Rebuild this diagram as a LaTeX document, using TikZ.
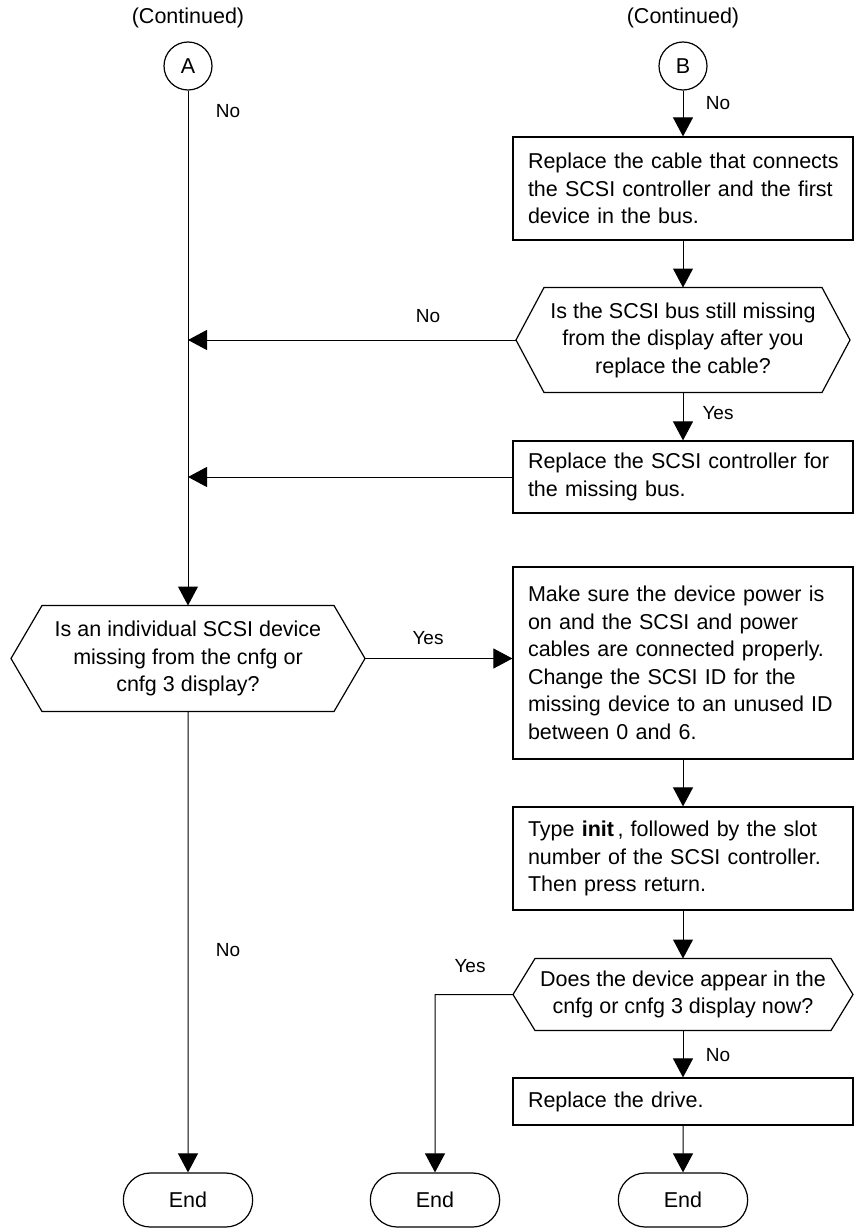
\documentclass[tikz,border=0pt]{standalone}
\usepackage{fontspec}
\setmainfont{Liberation Sans}
\usetikzlibrary{arrows.meta,shapes.misc}
\newcommand\bodyfont{\fontsize{21.5}{27.5}\selectfont}
\newcommand\labelfont{\fontsize{19}{23}\selectfont}
\begin{document}
\begin{tikzpicture}[x=1pt, y=-1pt,
        line width=1pt,
        box/.style={draw, line width=1.2pt, text width=310pt, inner xsep=15pt,
            inner ysep=0pt, align=left, font=\bodyfont},
        question/.style={inner sep=0pt, align=center, font=\bodyfont},
        connector/.style={draw, line width=1.2pt, circle, minimum size=48pt,
            inner sep=0pt, font=\bodyfont},
        terminal/.style={draw, line width=1.2pt, rounded rectangle,
            minimum width=136pt, minimum height=54pt, font=\bodyfont},
        answer/.style={font=\labelfont},
        arr/.style={-{Triangle[length=19pt,width=20pt]}}]
    \useasboundingbox (0,0) rectangle (856,1228);

    % off-page connectors
    \node[font=\bodyfont] (contA) at (188,18) {(Continued)};
    \node[font=\bodyfont] (contB) at (683,18) {(Continued)};
    \node[connector] (A) at (188,66) {A};
    \node[connector] (B) at (683,66) {B};

    % right column
    \node[box, minimum height=103pt] (cable) at (683,188.5)
        {\mbox{Replace the cable that connects}\\\mbox{the SCSI controller and the first}\\device in the bus.};
    \node[question, minimum width=277pt, minimum height=104pt] (busq) at (683,340)
        {Is the SCSI bus still missing\\from the display after you\\replace the cable?};
    \node[box, minimum height=72pt] (ctrl) at (683,477)
        {Replace the SCSI controller for\\the missing bus.};
    \node[box, minimum height=192pt] (power) at (683,663)
        {Make sure the device power is\\on and the SCSI and power\\cables are connected properly.\\Change the SCSI ID for the\\\mbox{missing device to an unused ID}\\between 0 and 6.};
    \node[box, minimum height=103pt] (init) at (683,858.5)
        {Type \textbf{init}\,, followed by the slot\\number of the SCSI controller.\\Then press return.};
    \node[question, minimum width=295pt, minimum height=71pt] (appq) at (683,994.5)
        {Does the device appear in the\\cnfg or cnfg 3 display now?};
    \node[box, minimum height=47pt] (drive) at (683,1101.5) {Replace the drive.};

    % left column
    \node[question, minimum width=291pt, minimum height=105pt] (devq) at (188,658.5)
        {Is an individual SCSI device\\missing from the cnfg or\\cnfg 3 display?};

    % ends
    \node[terminal] (end1) at (188,1200) {End};
    \node[terminal] (end2) at (435,1200) {End};
    \node[terminal] (end3) at (683,1200) {End};

    % hexagon outlines
    \foreach \n/\t in {busq/28pt, devq/31pt, appq/22pt}
        \draw[line width=1.2pt] (\n.north west) -- (\n.north east)
            -- ([xshift=\t]\n.east) coordinate (\n-r)
            -- (\n.south east) -- (\n.south west)
            -- ([xshift=-\t]\n.west) coordinate (\n-l) -- cycle;

    % connectors
    \draw[arr] (A) -- (devq);
    \draw[arr] (B) -- (cable);
    \draw[arr] (cable) -- (busq);
    \draw[arr] (busq) -- (ctrl);
    \draw[arr] (busq-l) -- (busq-l -| A);
    \draw[arr] (ctrl.west) -- (ctrl.west -| A);
    \draw[arr] (devq-r) -- (devq-r -| power.west);
    \draw[arr] (devq) -- (end1);
    \draw[arr] (power) -- (init);
    \draw[arr] (init) -- (appq);
    \draw[arr] (appq-l) -- (appq-l -| end2) -- (end2);
    \draw[arr] (appq) -- (drive);
    \draw[arr] (drive) -- (end3);

    % answers
    \node[answer] (noA) at (228,111) {No};
    \node[answer] (noB) at (718,103) {No};
    \node[answer] (noBus) at (428,316) {No};
    \node[answer] (yesBus) at (718,413) {Yes};
    \node[answer] (yesDev) at (428,638) {Yes};
    \node[answer] (noDev) at (228,950) {No};
    \node[answer] (yesApp) at (470,966) {Yes};
    \node[answer] (noApp) at (718,1055) {No};
\end{tikzpicture}
\end{document}
